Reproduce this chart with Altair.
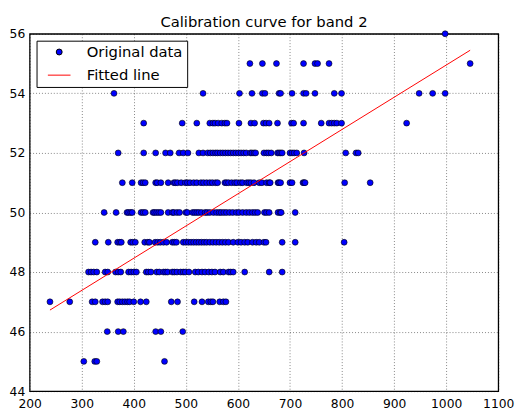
import altair as alt
import pandas as pd

# Observed data, one list per integer band value (y)
x_45 = [304, 325, 329, 459]
x_46 = [349, 370, 380, 442, 452, 494]
x_47 = [239, 277, 320, 326, 340, 345, 350, 369, 373, 378, 383, 388, 392, 400, 413, 424,
        472, 484, 516, 531, 543, 548, 552, 565, 572, 577]
x_48 = [313, 318, 323, 329, 345, 350, 365, 370, 375, 390, 395, 400, 405, 424, 428, 433,
        444, 449, 457, 461, 465, 474, 478, 483, 490, 495, 499, 506, 518, 524, 531, 537,
        544, 550, 556, 566, 572, 582, 586, 591, 613, 660, 685]
x_49 = [326, 351, 369, 373, 376, 394, 398, 403, 421, 427, 430, 441, 446, 451, 457, 463,
        474, 478, 482, 495, 500, 505, 510, 515, 520, 525, 530, 535, 540, 546, 552, 558,
        564, 570, 576, 582, 591, 600, 606, 613, 619, 628, 635, 641, 650, 654, 685, 710, 804]
x_50 = [343, 366, 387, 390, 394, 397, 414, 418, 422, 437, 440, 444, 448, 452, 466, 474,
        477, 483, 488, 500, 503, 513, 517, 521, 525, 530, 537, 541, 546, 553, 559, 564,
        568, 573, 578, 584, 590, 597, 602, 609, 616, 622, 628, 633, 638, 651, 655, 660,
        677, 681, 683, 710]
x_51 = [378, 397, 414, 418, 422, 442, 445, 452, 466, 477, 480, 484, 491, 499, 503, 508,
        515, 521, 529, 534, 540, 546, 551, 557, 561, 575, 578, 582, 588, 594, 598, 605,
        609, 617, 621, 625, 631, 641, 646, 655, 660, 662, 677, 679, 682, 700, 704, 725,
        727, 729, 805, 854]
x_52 = [370, 419, 442, 461, 470, 487, 495, 504, 525, 533, 542, 547, 552, 557, 561, 566,
        571, 576, 581, 586, 591, 596, 601, 606, 611, 616, 624, 627, 631, 634, 650, 655,
        659, 664, 676, 679, 682, 685, 700, 704, 708, 713, 727, 807, 827, 831]
x_53 = [419, 493, 521, 546, 552, 556, 562, 569, 575, 579, 602, 625, 632, 649, 654, 660,
        676, 703, 707, 726, 760, 775, 780, 785, 790, 799, 924]
x_54 = [362, 533, 603, 627, 647, 652, 679, 682, 704, 726, 731, 748, 785, 799, 948, 974, 998]
x_55 = [623, 647, 674, 726, 748, 753, 775, 1046]
x_56 = [998]

band_values = [45, 46, 47, 48, 49, 50, 51, 52, 53, 54, 55, 56]
band_rows = [x_45, x_46, x_47, x_48, x_49, x_50, x_51, x_52, x_53, x_54, x_55, x_56]

# Fitted line coefficients
fit_slope = 0.01081
fit_intercept = 44.14

series_names = ["Original data", "Fitted line"]
x_ticks = [200, 300, 400, 500, 600, 700, 800, 900, 1000, 1100]
y_ticks = [44, 46, 48, 50, 52, 54, 56]

xs, ys = [], []
for yv, row in zip(band_values, band_rows):
    for xv in row:
        xs.append(xv)
        ys.append(yv)
pts = pd.DataFrame({"x": xs, "y": ys, "series": series_names[0]})
lx = [min(xs), max(xs)]
line_df = pd.DataFrame({"x": lx, "y": [fit_intercept + fit_slope * v for v in lx],
                        "series": series_names[1]})

FONT = "DejaVu Sans"
xscale = alt.Scale(domain=[200, 1100], nice=False, zero=False)
yscale = alt.Scale(domain=[44, 56], nice=False, zero=False)
xaxis = alt.Axis(values=x_ticks, title=None, grid=True, ticks=False, domain=False,
                 labelPadding=7, labelFlush=False, labelOverlap=False, format="d")
yaxis = alt.Axis(values=y_ticks, title=None, grid=True, ticks=False, domain=False,
                 labelPadding=5, labelFlush=False, labelOverlap=False, format="d")

fill_scale = alt.Scale(domain=series_names, range=["#0000ff", "#ff0000"])
stroke_scale = alt.Scale(domain=series_names, range=["#000000", "#ff0000"])
shape_scale = alt.Scale(domain=series_names, range=["circle", "stroke"])
size_scale = alt.Scale(domain=series_names, range=[36, 529])
leg = alt.Legend(title=None)

points = alt.Chart(pts).mark_point(filled=True, opacity=1, strokeWidth=0.6).encode(
    x=alt.X("x:Q", scale=xscale, axis=xaxis),
    y=alt.Y("y:Q", scale=yscale, axis=yaxis),
    fill=alt.Fill("series:N", scale=fill_scale, legend=leg),
    stroke=alt.Stroke("series:N", scale=stroke_scale, legend=leg),
    shape=alt.Shape("series:N", scale=shape_scale, legend=leg),
    size=alt.Size("series:N", scale=size_scale, legend=leg),
)

line = alt.Chart(line_df).mark_line(strokeWidth=1).encode(
    x=alt.X("x:Q", scale=xscale, axis=xaxis),
    y=alt.Y("y:Q", scale=yscale, axis=yaxis),
    stroke=alt.Stroke("series:N", scale=stroke_scale, legend=leg),
)

chart = alt.layer(points, line).properties(
    width=476, height=363,
    title=alt.TitleParams("Calibration curve for band 2", font=FONT, fontSize=15,
                          fontWeight="normal", color="black", offset=-2, anchor="middle"),
    autosize=alt.AutoSizeParams(type="none"),
    padding={"left": 22, "top": 23, "right": 17, "bottom": 20},
).configure_view(
    stroke="black", strokeWidth=1.3
).configure_axis(
    labelFont=FONT, labelFontSize=12.5, labelColor="black",
    gridColor="black", gridOpacity=0.6, gridDash=[1, 2], gridWidth=0.8,
).configure_legend(
    orient="top-left", offset=7, padding=4, fillColor="white", strokeColor="black",
    labelFont=FONT, labelFontSize=15, labelColor="black", symbolStrokeWidth=1,
    rowPadding=3, labelOffset=16, symbolOffset=7, cornerRadius=0,
)

chart.save("out.html", embed_options={"renderer": "svg", "actions": False})
